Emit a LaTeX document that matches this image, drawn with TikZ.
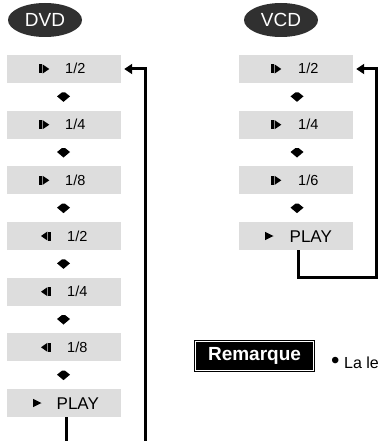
\documentclass[tikz,border=0pt]{standalone}
\usepackage{fontspec}
\setmainfont{Liberation Sans}
\usetikzlibrary{shapes.geometric,arrows.meta,calc}
\definecolor{boxgray}{RGB}{221,221,221}
\definecolor{ovaldark}{RGB}{48,48,48}
\begin{document}
\begin{tikzpicture}[x=1pt,y=-1pt,
  stepbox/.style={rectangle, fill=boxgray, minimum width=114pt, minimum height=28pt, inner sep=0pt},
  lbl/.style={anchor=base west, inner sep=0pt, font=\fontsize{14.5}{16}\selectfont},
  playlbl/.style={anchor=base west, inner sep=0pt, font=\fontsize{17}{19}\selectfont},
  oval/.style={ellipse, fill=ovaldark, text=white, minimum width=74pt, minimum height=34pt, inner sep=0pt, font=\fontsize{19}{21}\selectfont},
  conn/.style={line width=3pt},
  tip/.style={-{Triangle[length=8pt,width=10pt]}},
  fwd/.pic={\fill (-25,-4.5) rectangle (-22.3,4.5); \fill (-21.3,-4.5) -- (-14.7,0) -- (-21.3,4.5) -- cycle;},
  bwd/.pic={\fill (-16.6,-4.5) -- (-23,0) -- (-16.6,4.5) -- cycle; \fill (-15.8,-4.5) rectangle (-13.2,4.5);},
  playic/.pic={\fill (-31,-4.2) -- (-22.5,0) -- (-31,4.2) -- cycle;},
  darr/.pic={\fill (-1.5,-4.5) -- (1.5,-4.5) -- (6.5,-0.5) -- (0,5) -- (-6.5,-0.5) -- cycle;}
]
\useasboundingbox (0,0) rectangle (378,441);

% headers
\node[oval] (dvd) at (45,20) {DVD};
\node[oval] (vcd) at (281,20) {VCD};

% DVD column
\node[stepbox] (d1) at (64,69) {};
\node[stepbox] (d2) at (64,124.7) {};
\node[stepbox] (d3) at (64,180.3) {};
\node[stepbox] (d4) at (64,236) {};
\node[stepbox] (d5) at (64,291.7) {};
\node[stepbox] (d6) at (64,347.3) {};
\node[stepbox] (d7) at (64,403) {};

\path (d1) pic {fwd}; \node[lbl] (d1t) at ($(d1)+(1,5)$) {1/2};
\path (d2) pic {fwd}; \node[lbl] (d2t) at ($(d2)+(1,5)$) {1/4};
\path (d3) pic {fwd}; \node[lbl] (d3t) at ($(d3)+(1,5)$) {1/8};
\path (d4) pic {bwd}; \node[lbl] (d4t) at ($(d4)+(3,5)$) {1/2};
\path (d5) pic {bwd}; \node[lbl] (d5t) at ($(d5)+(3,5)$) {1/4};
\path (d6) pic {bwd}; \node[lbl] (d6t) at ($(d6)+(3,5)$) {1/8};
\path (d7) pic {playic}; \node[playlbl] (d7t) at ($(d7)+(-7.5,6)$) {PLAY};

\foreach \a/\b in {d1/d2,d2/d3,d3/d4,d4/d5,d5/d6,d6/d7}
  \path ($(\a)!0.5!(\b)+(-0.5,0)$) pic {darr};

% VCD column
\node[stepbox] (v1) at (296,69) {};
\node[stepbox] (v2) at (296,124.7) {};
\node[stepbox] (v3) at (296,180.3) {};
\node[stepbox] (v4) at (296,236) {};

\path (v1) pic {fwd}; \node[lbl] (v1t) at ($(v1)+(2,5)$) {1/2};
\path (v2) pic {fwd}; \node[lbl] (v2t) at ($(v2)+(2,5)$) {1/4};
\path (v3) pic {fwd}; \node[lbl] (v3t) at ($(v3)+(2,5)$) {1/6};
\path (v4) pic {playic}; \node[playlbl] (v4t) at ($(v4)+(-6.5,6)$) {PLAY};

\foreach \a/\b in {v1/v2,v2/v3,v3/v4}
  \path ($(\a)!0.5!(\b)+(1,0)$) pic {darr};

% connectors
\coordinate (dB) at (66,445);
\coordinate (dR) at (145,445);
\draw[conn] (d7.south -| dB) -- (dB);
\draw[conn,tip] (dR) |- ([xshift=3pt]d1.east);

\coordinate (vc1) at (298,277);
\coordinate (vc2) at (376,277);
\draw[conn,tip] (v4.south -| vc1) -- (vc1) -- (vc2) |- ([xshift=3pt]v1.east);

% note
\node[draw=black, fill=black, double=white, double distance=1pt, line width=1pt,
      minimum width=118pt, minimum height=29pt, inner sep=0pt, text=white,
      font=\bfseries\fontsize{19}{21}\selectfont] (rem) at (254.5,356) {Remarque};
\node[anchor=base west, inner sep=0pt, font=\fontsize{16}{18}\selectfont] (note) at (331,368)
  {{\fontsize{24}{24}\selectfont\textbullet}\hspace{4.5pt}La le};
\end{tikzpicture}
\end{document}
